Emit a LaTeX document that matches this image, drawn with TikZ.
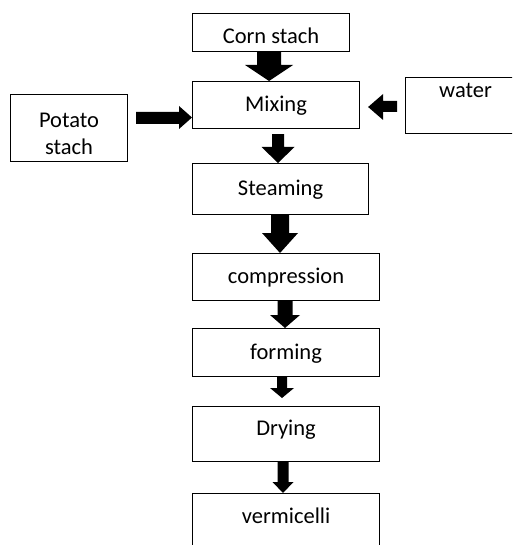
\documentclass[tikz,border=0pt]{standalone}
\usepackage{fontspec}
\setmainfont{Carlito}
\usetikzlibrary{calc}
\tikzset{
  box/.style={draw, line width=1.1pt, anchor=north west, inner sep=4pt, align=center,
    font=\fontsize{22.5}{27.5}\selectfont},
  tb/.style={text height=17pt, text depth=4pt},
  blk/.style={fill=black}
}
% vertical block arrow: from, to, x, shaft half, head half, head length, start gap, end gap
\newcommand{\vblk}[8]{%
  \fill[blk] let \p1=(#1.south), \p2=(#2.north) in
    (#3pt-#4pt,\y1-#7pt) -- (#3pt+#4pt,\y1-#7pt) -- (#3pt+#4pt,\y2+#8pt+#6pt)
    -- (#3pt+#5pt,\y2+#8pt+#6pt) -- (#3pt,\y2+#8pt) -- (#3pt-#5pt,\y2+#8pt+#6pt)
    -- (#3pt-#4pt,\y2+#8pt+#6pt) -- cycle;}
\begin{document}
\begin{tikzpicture}[x=1pt,y=-1pt]
\useasboundingbox (0,0) rectangle (512,545);
\clip (0,0) rectangle (512,545);
\node[box, minimum width=157pt, minimum height=38pt, text height=25pt, text depth=3pt] (corn) at (192,13) {Corn stach};
\node[box, tb, minimum width=167pt, minimum height=47pt] (mixing) at (192,81) {Mixing};
\node[box, minimum width=117pt, minimum height=67pt] (potato) at (10,94) {\rule{0pt}{26pt}Potato\\stach};
\node[box, minimum width=120pt, text height=16pt, text depth=32pt] (water) at (405,77) {water};
\node[box, tb, minimum width=176pt, minimum height=51pt] (steaming) at (192,163) {Steaming};
\node[box, tb, minimum width=187pt, minimum height=47pt] (compression) at (192,253) {compression};
\node[box, tb, minimum width=187pt, minimum height=48pt] (forming) at (192,328) {forming};
\node[box, minimum width=187pt, text height=25pt, text depth=22pt] (drying) at (192,406) {Drying};
\node[box, minimum width=187pt, text height=26pt, text depth=30pt] (verm) at (192,493) {vermicelli};
% vertical arrows
\vblk{corn}{mixing}{269}{12}{24}{16}{0}{0}
\vblk{mixing}{steaming}{278}{6}{16.5}{16}{5}{0}
\vblk{steaming}{compression}{280}{9}{18}{20}{0}{0}
\vblk{compression}{forming}{285}{7.5}{15}{13}{0}{0}
\vblk{forming}{drying}{282}{5}{12}{10}{0}{8}
\vblk{drying}{verm}{283}{5.5}{10.5}{11}{0}{0}
% horizontal arrows
\fill[blk] let \p1=(potato.east), \p2=(mixing.west) in
  (\x1+8pt,-112pt) -- (\x2-13pt,-112pt) -- (\x2-13pt,-106pt) -- (\x2,-117.5pt)
  -- (\x2-13pt,-129pt) -- (\x2-13pt,-124pt) -- (\x1+8pt,-124pt) -- cycle;
\fill[blk] let \p1=(water.west), \p2=(mixing.east) in
  (\x1-8pt,-101pt) -- (\x2+23pt,-101pt) -- (\x2+23pt,-94pt) -- (\x2+8pt,-107pt)
  -- (\x2+23pt,-120pt) -- (\x2+23pt,-112pt) -- (\x1-8pt,-112pt) -- cycle;
\end{tikzpicture}
\end{document}
